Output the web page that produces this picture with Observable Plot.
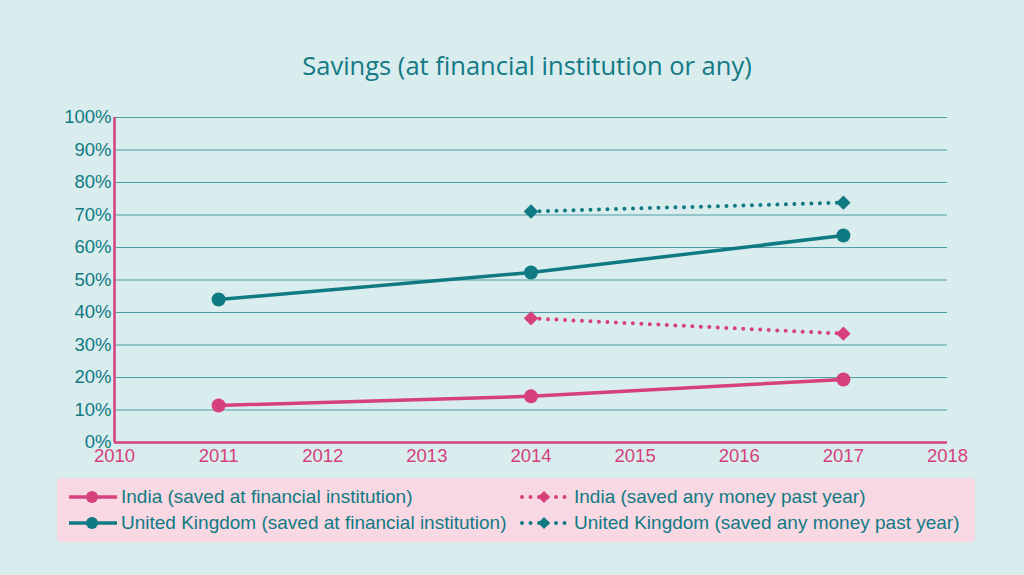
<!DOCTYPE html>
<html>
<head>
<meta charset="utf-8">
<script src="https://cdn.jsdelivr.net/npm/d3@7"></script>
<script src="https://cdn.jsdelivr.net/npm/@observablehq/plot@0.6"></script>
<style>
  html, body { margin: 0; padding: 0; background: #d9ecee; width: 1024px; height: 575px; overflow: hidden; }
  #title { height: 100px; box-sizing: border-box; padding-top: 47px; text-align: center; padding-left: 30px;
    font-family: "Open Sans", "Noto Sans", sans-serif; font-size: 25.5px; color: #127a84; line-height: 36px; }
  #chart svg { display: block; }
  #legend { position: absolute; left: 57px; top: 478px; width: 918px; height: 64px; background: #f8d8e2;
    border-radius: 3px; font-family: "Liberation Sans", Arial, sans-serif; font-size: 19px; color: #127a84; }
  .item { position: absolute; display: flex; align-items: center; height: 26px; }
  .item svg { margin-right: 4px; }
</style>
</head>
<body>
<div id="title">Savings (at financial institution or any)</div>
<div id="chart"></div>
<div id="legend"></div>
<script>
const years = [2011, 2014, 2017];
const indiaFinancial = [0.114, 0.142, 0.194];
const ukFinancial = [0.440, 0.523, 0.637];
const yearsAny = [2014, 2017];
const indiaAny = [0.382, 0.335];
const ukAny = [0.711, 0.738];
const xTicks = [2010, 2011, 2012, 2013, 2014, 2015, 2016, 2017, 2018];
const yTicks = [0, 0.1, 0.2, 0.3, 0.4, 0.5, 0.6, 0.7, 0.8, 0.9, 1.0];

const teal = "#0f7a82";
const pink = "#d6407b";

const seriesNames = [
  "India (saved at financial institution)",
  "United Kingdom (saved at financial institution)",
  "India (saved any money past year)",
  "United Kingdom (saved any money past year)"
];

const fin = [];
years.forEach((y, i) => {
  fin.push({year: y, value: indiaFinancial[i], series: seriesNames[0], color: pink});
  fin.push({year: y, value: ukFinancial[i], series: seriesNames[1], color: teal});
});
const any = [];
yearsAny.forEach((y, i) => {
  any.push({year: y, value: indiaAny[i], series: seriesNames[2], color: pink});
  any.push({year: y, value: ukAny[i], series: seriesNames[3], color: teal});
});

const pct = d => Math.round(d * 100) + "%";

const chart = Plot.plot({
  width: 1024,
  height: 370,
  marginTop: 17,
  marginBottom: 28,
  marginLeft: 114,
  marginRight: 77,
  style: {background: "transparent", fontFamily: "'Liberation Sans', Arial, sans-serif", fontSize: "18.5px"},
  x: {domain: [2010, 2018], ticks: xTicks, tickFormat: "d", tickSize: 0, tickPadding: 7, label: null},
  y: {domain: [0, 1], ticks: yTicks, tickFormat: pct, tickSize: 0, tickPadding: 3, label: null},
  marks: [
    Plot.gridY(yTicks, {stroke: "#4f9ea4", strokeOpacity: 1, strokeWidth: 1}),
    Plot.axisY({ticks: yTicks, tickFormat: pct, tickSize: 0, tickPadding: 3, fill: teal, label: null}),
    Plot.axisX({ticks: xTicks, tickFormat: "d", tickSize: 0, tickPadding: 6, fill: pink, label: null}),
    Plot.ruleX([2010], {stroke: pink, strokeWidth: 2.5}),
    Plot.ruleY([0], {stroke: pink, strokeWidth: 2.5}),
    Plot.line(fin, {x: "year", y: "value", z: "series", stroke: "color", strokeWidth: 3.5}),
    Plot.line(any, {x: "year", y: "value", z: "series", stroke: "color", strokeWidth: 4, strokeDasharray: "0,8.5", strokeLinecap: "round"}),
    Plot.dot(fin, {x: "year", y: "value", fill: "color", r: 7, stroke: null}),
    Plot.dot(any, {x: "year", y: "value", fill: "color", symbol: "diamond2", r: 6.5, stroke: null})
  ]
});
document.getElementById("chart").appendChild(chart);

// Legend
const legend = document.getElementById("legend");
const items = [
  {name: seriesNames[0], color: pink, dotted: false, left: 10, top: 6},
  {name: seriesNames[1], color: teal, dotted: false, left: 10, top: 32},
  {name: seriesNames[2], color: pink, dotted: true, left: 463, top: 6},
  {name: seriesNames[3], color: teal, dotted: true, left: 463, top: 32}
];
items.forEach(it => {
  const div = document.createElement("div");
  div.className = "item";
  div.style.left = it.left + "px";
  div.style.top = it.top + "px";
  const ns = "http://www.w3.org/2000/svg";
  const svg = document.createElementNS(ns, "svg");
  svg.setAttribute("width", it.dotted ? 50 : 50);
  svg.setAttribute("height", 20);
  const line = document.createElementNS(ns, "line");
  line.setAttribute("x1", 2); line.setAttribute("x2", it.dotted ? 46 : 50);
  line.setAttribute("y1", 10); line.setAttribute("y2", 10);
  line.setAttribute("stroke", it.color);
  if (it.dotted) {
    line.setAttribute("stroke-width", 4);
    line.setAttribute("stroke-dasharray", "0,8.5");
    line.setAttribute("stroke-linecap", "round");
  } else {
    line.setAttribute("stroke-width", 3.5);
  }
  svg.appendChild(line);
  if (it.dotted) {
    const p = document.createElementNS(ns, "path");
    p.setAttribute("d", "M24,4 L30,10 L24,16 L18,10 Z");
    p.setAttribute("fill", it.color);
    svg.appendChild(p);
  } else {
    const c = document.createElementNS(ns, "circle");
    c.setAttribute("cx", 25); c.setAttribute("cy", 10); c.setAttribute("r", 6);
    c.setAttribute("fill", it.color);
    svg.appendChild(c);
  }
  div.appendChild(svg);
  const span = document.createElement("span");
  span.textContent = it.name;
  div.appendChild(span);
  legend.appendChild(div);
});
</script>
</body>
</html>
